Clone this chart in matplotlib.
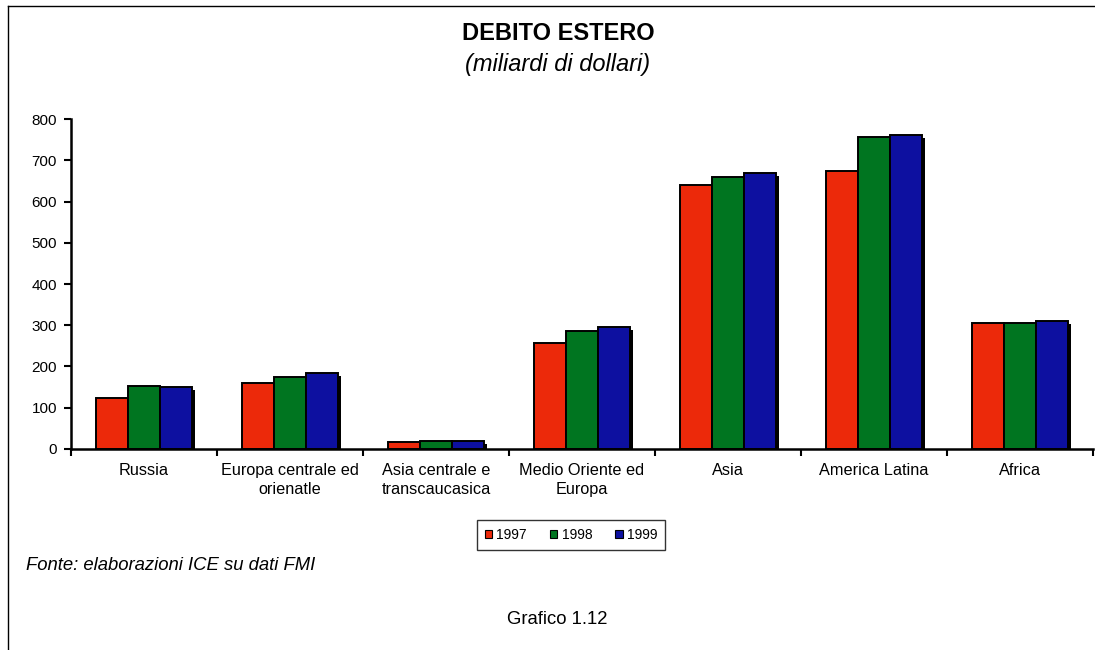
import matplotlib
matplotlib.use("Agg")
import matplotlib.pyplot as plt
import matplotlib.patheffects as pe
from matplotlib.lines import Line2D
import numpy as np

plt.rcParams['font.family'] = ['Liberation Sans', 'DejaVu Sans']

categories = ["Russia", "Europa centrale ed\norienatle", "Asia centrale e\ntranscaucasica",
              "Medio Oriente ed\nEuropa", "Asia", "America Latina", "Africa"]
years = ["1997", "1998", "1999"]
debt_1997 = [124, 160, 17, 257, 641, 675, 306]
debt_1998 = [153, 175, 19, 287, 661, 758, 306]
debt_1999 = [151, 185, 19, 296, 670, 763, 311]
y_ticks = [0, 100, 200, 300, 400, 500, 600, 700, 800]

colors = ["#EC290A", "#007520", "#0D10A0"]

fig = plt.figure(figsize=(10.95, 6.5), dpi=100)
ax = fig.add_axes([71/1095, 1 - 448.7/650, (1093 - 71)/1095, (448.7 - 119.3)/650])

x = np.arange(len(categories))
width = 0.22
shadow = [pe.SimplePatchShadow(offset=(2.3, -2.3), shadow_rgbFace='black', alpha=1.0), pe.Normal()]
for i, (vals, col, lab) in enumerate(zip([debt_1997, debt_1998, debt_1999], colors, years)):
    bars = ax.bar(x + (i - 1) * width, vals, width, color=col, edgecolor='black',
                  linewidth=1.4, label=lab, zorder=2)
    for b in bars:
        b.set_path_effects(shadow)

ax.set_xlim(-0.5, len(categories) - 0.5)
ax.set_ylim(0, 800)
ax.set_yticks(y_ticks)
ax.set_xticks(x)
ax.set_xticklabels(categories, fontsize=11.7, linespacing=1.35)
ax.set_xticks(np.arange(-0.5, len(categories)), minor=True)
ax.tick_params(axis='x', which='major', length=0, pad=10)
ax.tick_params(axis='x', which='minor', length=5, width=1.5, direction='out')
ax.tick_params(axis='y', length=5, width=1.5, direction='out', labelsize=11, pad=5)

for s in ['top', 'right']:
    ax.spines[s].set_visible(False)
for s in ['left', 'bottom']:
    ax.spines[s].set_linewidth(1.8)
    ax.spines[s].set_zorder(3)

leg = fig.legend(loc='center', bbox_to_anchor=(571/1095, 1 - 535/650), ncol=3, fontsize=10,
                 handlelength=0.55, handleheight=0.55, handletextpad=0.3, columnspacing=1.65,
                 frameon=True, fancybox=False, edgecolor='black', borderpad=0.55)
leg.get_frame().set_linewidth(1.0)
for h in leg.legend_handles:
    h.set_path_effects([])
    h.set_linewidth(0.8)

fig.text(558/1095, 1 - 33/650, "DEBITO ESTERO", ha='center', va='center',
         fontsize=17, fontweight='bold')
fig.text(558/1095, 1 - 64/650, "(miliardi di dollari)", ha='center', va='center',
         fontsize=17, style='italic')
fig.text(26/1095, 1 - 566/650, "Fonte: elaborazioni ICE su dati FMI", ha='left', va='center',
         fontsize=13.3, style='italic')
fig.text(557/1095, 1 - 620/650, "Grafico 1.12", ha='center', va='center', fontsize=13.3)

# outer frame: left and top edges
fig.add_artist(Line2D([8/1095, 8/1095], [0, 1 - 6/650], transform=fig.transFigure,
                      color='black', linewidth=1.0))
fig.add_artist(Line2D([8/1095, 1], [1 - 6/650, 1 - 6/650], transform=fig.transFigure,
                      color='black', linewidth=1.0))

fig.savefig("out.png", dpi=100)
